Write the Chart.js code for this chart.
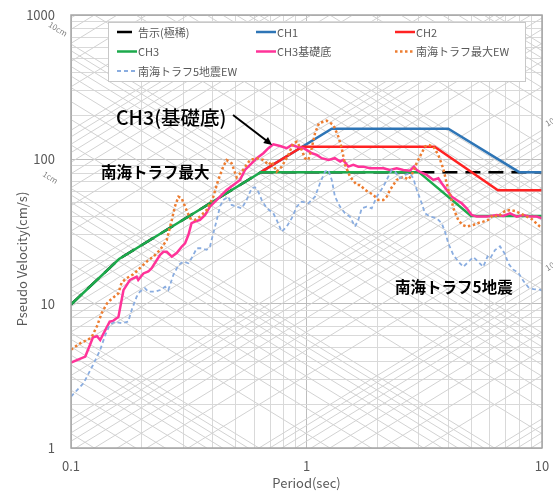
<!DOCTYPE html>
<html>
<head>
<meta charset="utf-8">
<script src="https://cdn.jsdelivr.net/npm/chart.js@4.4.1/dist/chart.umd.min.js"></script>
<style>
  html, body { margin: 0; padding: 0; background: #ffffff; }
  canvas { display: block; }
</style>
</head>
<body>
<canvas id="spectrum" width="553" height="491"></canvas>
<script>
// ---- Period (sec) / pseudo velocity (cm/s) ----
const kokujiT = [0.1, 0.16, 0.64, 10];
const kokujiV = [9.87, 20.4, 81.5, 81.5];

const ch1T = [0.64, 1.28, 4.0, 8.0, 10];
const ch1V = [81.5, 163, 163, 81.5, 81.5];

const ch2T = [0.64, 0.96, 3.5, 6.5, 10];
const ch2V = [81.5, 122.3, 122.3, 61.1, 61.1];

const ch3T = [0.1, 0.16, 0.64, 3.0, 5.0, 10];
const ch3V = [9.87, 20.4, 81.5, 81.5, 40.5, 40.5];

const baseT = [0.1, 0.115, 0.124, 0.129, 0.133, 0.146, 0.151, 0.159, 0.167, 0.178, 0.19, 0.193, 0.203, 0.213, 0.22,
  0.239, 0.247, 0.255, 0.268, 0.281, 0.295, 0.305, 0.315, 0.325, 0.336, 0.353, 0.371, 0.389, 0.416, 0.458,
  0.489, 0.522, 0.548, 0.576, 0.615, 0.656, 0.689, 0.723, 0.772, 0.824, 0.866, 0.909, 0.969, 1.0, 1.055,
  1.105, 1.16, 1.24, 1.32, 1.39, 1.43, 1.505, 1.58, 1.66, 1.743, 1.86, 1.987, 2.12, 2.262, 2.415, 2.576,
  2.75, 2.86, 2.94, 3.03, 3.24, 3.455, 3.63, 3.75, 3.94, 4.14, 4.34, 4.56, 4.79, 5.03, 5.28, 5.82, 6.42,
  6.85, 7.31, 7.81, 8.33, 8.9, 9.5, 10];
const baseV = [3.9, 4.3, 5.85, 5.95, 5.6, 7.5, 7.6, 8.1, 12.4, 14.6, 15.4, 14.6, 16.2, 16.7, 17.6,
  21.8, 22.9, 22.9, 21.2, 22.4, 24.8, 26.2, 29.9, 36.1, 37.0, 38.0, 41.2, 47.0, 52.3, 61.4,
  66.5, 72.0, 84.4, 91.5, 101.8, 110.2, 119.4, 127.2, 123.8, 119.4, 125.8, 122.5, 119.4, 116.2, 110.2,
  107.3, 101.8, 99.0, 101.8, 96.4, 99.0, 89.0, 91.5, 89.0, 89.0, 86.8, 86.8, 86.8, 84.4, 86.8, 84.4,
  83.5, 89.0, 84.4, 82.0, 78.0, 72.0, 74.0, 68.3, 61.4, 55.1, 52.3, 49.6, 45.8, 41.2, 40.1, 40.1, 41.2,
  40.5, 42.3, 40.1, 41.2, 40.1, 40.1, 39.1];

const nankaiMaxT = [0.1, 0.109, 0.122, 0.129, 0.135, 0.142, 0.147, 0.159, 0.164, 0.172, 0.184, 0.196, 0.21, 0.224,
  0.239, 0.255, 0.268, 0.276, 0.286, 0.295, 0.305, 0.32, 0.336, 0.353, 0.377, 0.402, 0.422, 0.443, 0.458,
  0.481, 0.505, 0.531, 0.576, 0.615, 0.656, 0.689, 0.712, 0.747, 0.785, 0.837, 0.879, 0.909, 0.954, 0.985,
  1.018, 1.052, 1.087, 1.13, 1.218, 1.3, 1.365, 1.411, 1.457, 1.53, 1.634, 1.688, 1.772, 1.922, 2.018,
  2.12, 2.19, 2.262, 2.415, 2.576, 2.706, 2.797, 2.89, 3.03, 3.185, 3.29, 3.455, 3.63, 3.81, 3.94, 4.0,
  4.1, 4.2, 4.41, 4.6, 4.79, 5.11, 5.4, 5.63, 5.9, 6.21, 6.5, 6.97, 7.31, 7.68, 8.33, 9.04, 9.8, 10];
const nankaiMaxV = [4.8, 5.3, 5.8, 7.0, 8.6, 10.0, 10.6, 11.8, 14.0, 15.0, 16.0, 17.6, 19.6, 21.2,
  23.6, 27.6, 38.0, 47.0, 55.1, 53.8, 47.0, 39.1, 38.0, 40.1, 44.6, 55.1, 72.0, 89.0, 99.0,
  94.0, 75.0, 82.2, 99.0, 101.8, 99.0, 91.5, 96.4, 82.2, 89.0, 107.3, 129.3, 132.7, 116.2, 101.8,
  99.0, 119.4, 151.7, 178.0, 185.4, 173.2, 143.7, 119.4, 92.0, 75.9, 66.5, 66.5, 61.4, 56.7, 52.3,
  52.3, 55.0, 61.4, 72.0, 75.9, 72.5, 78.0, 89.0, 104.4, 122.5, 126.0, 122.5, 107.3, 86.0, 68.0, 61.4,
  55.0, 46.0, 38.0, 35.1, 34.2, 35.1, 36.4, 37.0, 38.0, 41.2, 40.1, 43.9, 44.6, 43.9, 41.2, 38.6, 34.2, 33.5];

const nankai5T = [0.1, 0.113, 0.124, 0.133, 0.14, 0.146, 0.154, 0.164, 0.175, 0.181, 0.19, 0.196, 0.206, 0.213,
  0.227, 0.239, 0.251, 0.259, 0.272, 0.286, 0.3, 0.315, 0.325, 0.342, 0.359, 0.377, 0.389, 0.402, 0.416,
  0.429, 0.443, 0.466, 0.481, 0.505, 0.531, 0.557, 0.585, 0.604, 0.624, 0.645, 0.678, 0.723, 0.747, 0.785,
  0.824, 0.866, 0.909, 0.954, 1.018, 1.087, 1.141, 1.198, 1.238, 1.28, 1.321, 1.388, 1.457, 1.53, 1.607,
  1.66, 1.716, 1.802, 1.892, 1.987, 2.12, 2.225, 2.3, 2.376, 2.495, 2.62, 2.75, 2.84, 2.94, 3.085, 3.185,
  3.345, 3.573, 3.75, 3.874, 4.0, 4.2, 4.41, 4.63, 4.87, 5.11, 5.365, 5.63, 5.87, 6.015, 6.315, 6.63,
  6.97, 7.19, 7.55, 7.93, 8.33, 8.75, 9.19, 9.8, 10];
const nankai5V = [2.27, 2.81, 3.76, 4.78, 6.1, 7.12, 7.5, 7.31, 7.5, 9.04, 11.18, 12.1, 12.8, 12.1,
  12.1, 12.44, 13.1, 12.44, 15.8, 18.5, 19.55, 19.05, 20.6, 24.2, 24.2, 23.6, 24.8, 30.75, 38.0,
  47.0, 52.3, 55.1, 48.3, 47.0, 45.8, 52.3, 63.1, 64.1, 59.7, 52.3, 45.8, 42.3, 38.0, 31.5,
  34.2, 39.1, 47.0, 50.9, 49.6, 55.1, 68.3, 82.2, 84.4, 72.0, 55.1, 47.0, 42.3, 40.0, 34.2,
  38.0, 45.8, 47.0, 45.8, 55.1, 64.7, 75.9, 84.4, 82.2, 74.0, 78.0, 80.1, 74.0, 61.4, 49.6, 42.3,
  40.1, 39.1, 36.1, 31.5, 26.2, 21.8, 19.6, 18.0, 19.5, 21.0, 19.5, 18.0, 21.2, 20.5, 23.5, 25.0,
  22.0, 19.0, 17.2, 16.4, 14.4, 13.0, 12.6, 12.5, 12.3];

// ---- axis ticks ----
const periodDecades = [0.1, 1, 10];
const velocityDecades = [1, 10, 100, 1000];
const minorSteps = [1, 2, 3, 4, 5, 6, 7, 8, 9];

// ---- tripartite guide lines: displacement (cm) and acceleration (gal) decades ----
const dispDecades = [0.01, 0.1, 1, 10, 100, 1000];
const accDecades = [0.1, 1, 10, 100, 1000, 10000];

const FONT = '"Noto Sans CJK JP", "Noto Sans", sans-serif';
const GREY_TEXT = '#595959';

function pairs(ts, vs) { return ts.map((t, i) => ({ x: t, y: vs[i] })); }

function logTicks(decades) {
  const out = [];
  for (let d = 0; d < decades.length - 1; d++) {
    minorSteps.forEach(k => out.push(+(k * decades[d]).toPrecision(6)));
  }
  out.push(decades[decades.length - 1]);
  return out;
}
function isDecade(v) {
  const l = Math.log10(v);
  return Math.abs(l - Math.round(l)) < 1e-9;
}
// keep the plot box fixed: no extra room for overhanging tick labels
function noOverhang(s) {
  s.paddingLeft = 0; s.paddingRight = 0; s.paddingTop = 0; s.paddingBottom = 0;
}

// diagonal guide grid + plot frame
const tripartite = {
  id: 'tripartite',
  beforeDatasetsDraw(chart) {
    const { ctx, chartArea: a, scales: { x, y } } = chart;
    const tMin = 0.1, tMax = 10;
    ctx.save();
    ctx.beginPath();
    ctx.rect(a.left, a.top, a.right - a.left, a.bottom - a.top);
    ctx.clip();
    ctx.strokeStyle = '#d2d2d2';
    ctx.lineWidth = 1;
    const line = (v1, v2) => {
      ctx.beginPath();
      ctx.moveTo(x.getPixelForValue(tMin), y.getPixelForValue(v1));
      ctx.lineTo(x.getPixelForValue(tMax), y.getPixelForValue(v2));
      ctx.stroke();
    };
    dispDecades.forEach(dec => minorSteps.forEach(k => {
      const D = k * dec;                      // V = 2*pi*D / T
      line(2 * Math.PI * D / tMin, 2 * Math.PI * D / tMax);
    }));
    accDecades.forEach(dec => minorSteps.forEach(k => {
      const A = k * dec;                      // V = A * T / (2*pi)
      line(A * tMin / (2 * Math.PI), A * tMax / (2 * Math.PI));
    }));
    ctx.restore();
  },
  afterDatasetsDraw(chart) {
    const { ctx, chartArea: a } = chart;
    ctx.save();
    ctx.strokeStyle = '#a6a6a6';
    ctx.lineWidth = 1.5;
    ctx.strokeRect(a.left, a.top, a.right - a.left, a.bottom - a.top);
    ctx.restore();
  }
};

// legend box, y title, guide labels and callouts
const overlay = {
  id: 'overlay',
  afterDraw(chart) {
    const { ctx, scales: { x, y } } = chart;
    ctx.save();

    // legend
    const box = { l: 108, t: 22, r: 525, b: 81 };
    ctx.fillStyle = '#ffffff';
    ctx.fillRect(box.l, box.t, box.r - box.l, box.b - box.t);
    ctx.strokeStyle = '#c8c8c8';
    ctx.lineWidth = 1;
    ctx.strokeRect(box.l + 0.5, box.t + 0.5, box.r - box.l, box.b - box.t);
    const cols = [117, 256, 395], rows = [32, 51.5, 71];
    chart.data.datasets.forEach((ds, i) => {
      const lx = cols[i % 3], ly = rows[Math.floor(i / 3)];
      ctx.beginPath();
      ctx.setLineDash(ds.borderDash || []);
      ctx.lineWidth = ds.borderWidth;
      ctx.strokeStyle = ds.borderColor;
      ctx.moveTo(lx, ly);
      ctx.lineTo(lx + 20, ly);
      ctx.stroke();
      ctx.setLineDash([]);
      ctx.fillStyle = GREY_TEXT;
      ctx.font = '11px ' + FONT;
      ctx.textAlign = 'left';
      ctx.textBaseline = 'middle';
      ctx.fillText(ds.label, lx + 21, ly + 0.5);
    });

    // y axis title
    ctx.save();
    ctx.translate(22, 259);
    ctx.rotate(-Math.PI / 2);
    ctx.fillStyle = GREY_TEXT;
    ctx.font = '13px ' + FONT;
    ctx.textAlign = 'center';
    ctx.textBaseline = 'middle';
    ctx.fillText('Pseudo Velocity(cm/s)', 0, 0);
    ctx.restore();

    // guide-line labels
    const ang = Math.atan2(y.getPixelForValue(1) - y.getPixelForValue(10),
                           x.getPixelForValue(10) - x.getPixelForValue(1));
    const guideLabel = (txt, T, V, rot, align) => {
      ctx.save();
      ctx.translate(x.getPixelForValue(T), y.getPixelForValue(V));
      ctx.rotate(rot);
      ctx.fillStyle = '#7f7f7f';
      ctx.font = '8px ' + FONT;
      ctx.textAlign = align;
      ctx.textBaseline = 'middle';
      ctx.fillText(txt, 0, 0);
      ctx.restore();
    };
    guideLabel('10cm', 0.088, 800, ang, 'center');
    guideLabel('1cm', 0.0818, 75, ang, 'center');
    guideLabel('100gal', 10.4, 175, -ang, 'left');
    guideLabel('10gal', 10.4, 17.5, -ang, 'left');

    // callouts
    ctx.fillStyle = '#000000';
    ctx.textAlign = 'left';
    ctx.textBaseline = 'middle';
    ctx.font = '500 19.5px ' + FONT;
    ctx.fillText('CH3(基礎底)', x.getPixelForValue(0.1553), y.getPixelForValue(193.6));
    ctx.font = 'bold 15.5px ' + FONT;
    ctx.fillText('南海トラフ最大', x.getPixelForValue(0.134), y.getPixelForValue(81.8));
    ctx.fillText('南海トラフ5地震', x.getPixelForValue(2.376), y.getPixelForValue(13.05));

    // arrow to the CH3基礎底 peak
    const x0 = x.getPixelForValue(0.4875), y0 = y.getPixelForValue(203);
    const x1 = x.getPixelForValue(0.714), y1 = y.getPixelForValue(125.8);
    const th = Math.atan2(y1 - y0, x1 - x0);
    ctx.strokeStyle = '#000000';
    ctx.lineWidth = 2;
    ctx.beginPath();
    ctx.moveTo(x0, y0);
    ctx.lineTo(x1 - 6 * Math.cos(th), y1 - 6 * Math.sin(th));
    ctx.stroke();
    ctx.beginPath();
    ctx.moveTo(x1, y1);
    ctx.lineTo(x1 - 9 * Math.cos(th - 0.45), y1 - 9 * Math.sin(th - 0.45));
    ctx.lineTo(x1 - 9 * Math.cos(th + 0.45), y1 - 9 * Math.sin(th + 0.45));
    ctx.closePath();
    ctx.fill();

    ctx.restore();
  }
};

const gridColor = c => (isDecade(c.tick.value) ? '#bdbdbd' : '#d9d9d9');

new Chart(document.getElementById('spectrum'), {
  type: 'line',
  data: {
    datasets: [
      { label: '告示(極稀)', data: pairs(kokujiT, kokujiV), borderColor: '#000000', borderWidth: 2.5, borderDash: [15, 8], order: 7 },
      { label: 'CH1', data: pairs(ch1T, ch1V), borderColor: '#2E75B6', borderWidth: 2.5, order: 6 },
      { label: 'CH2', data: pairs(ch2T, ch2V), borderColor: '#FF2222', borderWidth: 2.5, order: 5 },
      { label: 'CH3', data: pairs(ch3T, ch3V), borderColor: '#1DAA4C', borderWidth: 2.5, order: 4 },
      { label: 'CH3基礎底', data: pairs(baseT, baseV), borderColor: '#FF3399', borderWidth: 2.5, order: 3 },
      { label: '南海トラフ最大EW', data: pairs(nankaiMaxT, nankaiMaxV), borderColor: '#ED7D31', borderWidth: 2.5, borderDash: [2.5, 2.5], order: 2 },
      { label: '南海トラフ5地震EW', data: pairs(nankai5T, nankai5V), borderColor: '#8AADE0', borderWidth: 1.8, borderDash: [4, 3], order: 1 }
    ]
  },
  options: {
    responsive: false,
    devicePixelRatio: 1,
    animation: false,
    events: [],
    layout: { padding: { left: 0, top: 15, right: 11, bottom: 0 } },
    elements: { point: { radius: 0 }, line: { tension: 0, fill: false } },
    plugins: { legend: { display: false }, tooltip: { enabled: false } },
    scales: {
      x: {
        type: 'logarithmic',
        min: 0.1, max: 10,
        afterFit: s => { s.height = 43; noOverhang(s); },
        afterBuildTicks: s => { s.ticks = logTicks(periodDecades).map(v => ({ value: v })); },
        border: { display: false },
        grid: { color: gridColor, lineWidth: 1, drawTicks: false },
        ticks: {
          autoSkip: false, maxRotation: 0, padding: 10,
          color: GREY_TEXT, font: { family: FONT, size: 13 },
          callback: v => (isDecade(v) ? String(v) : '')
        },
        title: { display: true, text: 'Period(sec)', color: GREY_TEXT, font: { family: FONT, size: 13 }, padding: { top: 0, bottom: 0 } }
      },
      y: {
        type: 'logarithmic',
        min: 1, max: 1000,
        afterFit: s => { s.width = 71; noOverhang(s); },
        afterBuildTicks: s => { s.ticks = logTicks(velocityDecades).map(v => ({ value: v })); },
        border: { display: false },
        grid: { color: gridColor, lineWidth: 1, drawTicks: false },
        ticks: {
          autoSkip: false, padding: 16,
          color: GREY_TEXT, font: { family: FONT, size: 13 },
          callback: v => (isDecade(v) ? String(v) : '')
        }
      }
    }
  },
  plugins: [tripartite, overlay]
});
</script>
</body>
</html>
